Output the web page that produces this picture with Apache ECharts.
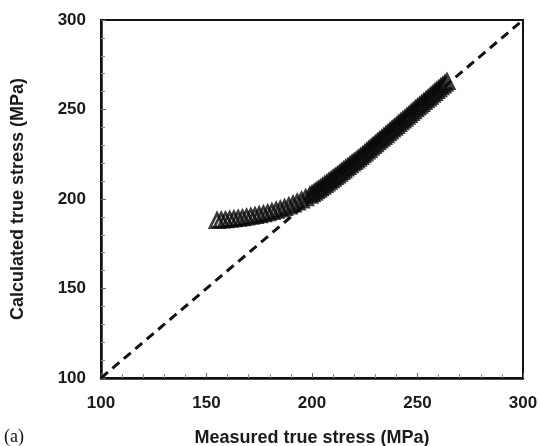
<!DOCTYPE html>
<html>
<head>
<meta charset="utf-8">
<script src="https://cdn.jsdelivr.net/npm/echarts@6/dist/echarts.min.js"></script>
<style>
   html, body { margin: 0; padding: 0; background: #fff; }
   #chart { width: 540px; height: 446px; }
</style>
</head>
<body>
<div id="chart"></div>
<script>

// measured true stress (MPa)
const measured = [
   155, 157, 159, 161, 163, 165, 167, 169, 171, 173, 175, 177, 179, 181, 183, 185, 187, 189, 191, 193, 195, 197, 199,
   200, 201, 202, 203, 204, 205, 206, 207, 208, 209, 210, 211, 212, 213, 214, 215, 216, 217, 218, 219, 220,
   221, 222, 223, 224, 225, 226, 227, 228, 229, 230, 231, 232, 233, 234, 235, 236, 237, 238, 239, 240,
   241, 242, 243, 244, 245, 246, 247, 248, 249, 250, 251, 252, 253, 254, 255, 256, 257, 258, 259, 260,
   261, 262, 263, 264
];

// calculated true stress (MPa)
const calculated = [
   188.0, 188.2, 188.4, 188.6, 188.9, 189.2, 189.5, 189.9, 190.3, 190.7, 191.2, 191.7, 192.3, 192.9, 193.6, 194.4, 195.2, 196.1, 197.1, 198.2, 199.4, 200.7, 202.1,
   202.9, 203.7, 204.5, 205.4, 206.2, 207.1, 208.0, 208.9, 209.8, 210.7, 211.6, 212.5, 213.4, 214.3, 215.3, 216.2, 217.2, 218.1, 219.1, 220.0, 220.9,
   221.7, 222.7, 223.7, 224.7, 225.7, 226.8, 227.8, 228.8, 229.8, 230.8, 231.9, 232.9, 233.9, 234.9, 235.9, 237.0, 238.0, 239.0, 240.0, 241.0,
   242.1, 243.1, 244.1, 245.1, 246.2, 247.2, 248.2, 249.2, 250.3, 251.3, 252.3, 253.3, 254.4, 255.4, 256.4, 257.4, 258.5, 259.5, 260.5, 261.5,
   262.6, 263.6, 264.6, 265.6
];

// 1:1 reference line
const diagX = [100, 300];
const diagY = [100, 300];

const axisFont = 'Liberation Sans, Arial, sans-serif';

const chart = echarts.init(document.getElementById('chart'));

const points = measured.map((m, i) => [m, calculated[i]]);
const diag = diagX.map((x, i) => [x, diagY[i]]);

const option =
{
   animation: false,
   backgroundColor: '#ffffff',
   grid:
   {
      left: 101,
      top: 20,
      width: 422,
      height: 358,
      outerBoundsMode: 'none',
      containLabel: false,
      show: true,
      borderColor: '#111',
      borderWidth: 2,
      backgroundColor: 'transparent'
   },
   xAxis:
   {
      type: 'value',
      min: 100,
      max: 300,
      interval: 50,
      name: 'Measured true stress (MPa)',
      nameLocation: 'middle',
      nameGap: 51,
      nameTextStyle: { fontFamily: axisFont, fontWeight: 'bold', fontSize: 18, color: '#1a1a1a' },
      axisLine: { show: true, lineStyle: { color: '#111', width: 2.5 } },
      axisTick: { show: true, inside: true, length: 5, lineStyle: { color: '#666', width: 1 } },
      minorTick: { show: true, splitNumber: 5, length: 4, lineStyle: { color: '#888', width: 1 } },
      axisLabel: { fontFamily: axisFont, fontWeight: 'bold', fontSize: 17, color: '#1a1a1a', margin: 17 },
      splitLine: { show: false }
   },
   yAxis:
   {
      type: 'value',
      min: 100,
      max: 300,
      interval: 50,
      name: 'Calculated true stress (MPa)',
      nameLocation: 'middle',
      nameGap: 74,
      nameTextStyle: { fontFamily: axisFont, fontWeight: 'bold', fontSize: 18, color: '#1a1a1a' },
      axisLine: { show: true, lineStyle: { color: '#111', width: 2.5 } },
      axisTick: { show: true, inside: true, length: 5, lineStyle: { color: '#666', width: 1 } },
      minorTick: { show: true, splitNumber: 5, length: 4, lineStyle: { color: '#888', width: 1 } },
      axisLabel: { fontFamily: axisFont, fontWeight: 'bold', fontSize: 17, color: '#1a1a1a', margin: 15 },
      splitLine: { show: false }
   },
   series:
   [
      {
         type: 'line',
         data: diag,
         showSymbol: false,
         silent: true,
         lineStyle: { color: '#111', width: 3, type: [9, 6] },
         z: 1
      },
      {
         type: 'scatter',
         data: points,
         symbol: 'triangle',
         symbolSize: 14,
         itemStyle: { color: 'transparent', borderColor: '#0a0a0a', borderWidth: 2.8 },
         z: 2
      }
   ],
   graphic:
   [
      {
         type: 'text',
         left: 4,
         top: 428,
         style: { text: '(a)', fontFamily: 'Liberation Serif, Times New Roman, serif', fontSize: 18, fill: '#111' }
      }
   ]
};

chart.setOption(option);

</script>
</body>
</html>
